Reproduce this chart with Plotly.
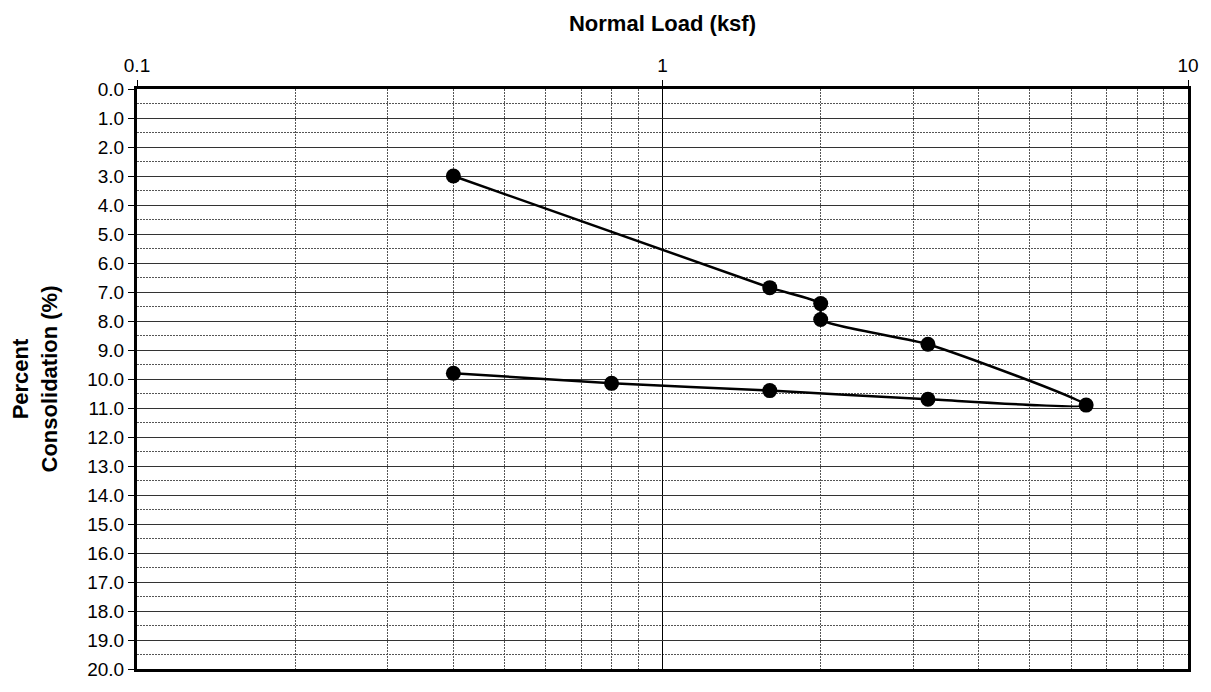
import plotly.graph_objects as go

load_ksf = [0.4, 1.6, 2.0, 2.0, 3.2, 6.4, 3.2, 1.6, 0.8, 0.4]
consolidation_pct = [3.0, 6.85, 7.4, 7.95, 8.8, 10.9, 10.7, 10.4, 10.15, 9.8]

x_major = [0.1, 1, 10]
x_major_text = ["0.1", "1", "10"]
x_minor = [0.2, 0.3, 0.4, 0.5, 0.6, 0.7, 0.8, 0.9, 2, 3, 4, 5, 6, 7, 8, 9]

FONT = "Liberation Sans, Arial, sans-serif"

fig = go.Figure()
fig.add_trace(go.Scatter(
    x=load_ksf, y=consolidation_pct, mode="lines+markers",
    line=dict(color="black", width=2.5, shape="spline", smoothing=0.5),
    marker=dict(color="black", size=15),
    showlegend=False,
))

fig.update_layout(
    width=1211, height=692,
    margin=dict(l=137, r=21, t=89, b=13),
    paper_bgcolor="white", plot_bgcolor="white",
    font=dict(family=FONT, size=19, color="black"),
    xaxis=dict(
        type="log", side="top", range=[-1, 1],
        tickmode="array", tickvals=x_major, ticktext=x_major_text,
        ticks="outside", ticklen=6, tickcolor="black",
        showgrid=True, gridcolor="black", gridwidth=1,
        showline=True, linecolor="black", linewidth=3, mirror=True,
        minor=dict(tickmode="array", tickvals=x_minor, showgrid=True,
                   gridcolor="#555", griddash="2px,1px", gridwidth=1),
        title=dict(text="<b>Normal Load (ksf)</b>", font=dict(size=22), standoff=18),
        zeroline=False,
    ),
    yaxis=dict(
        range=[20, 0], tickmode="linear", tick0=0, dtick=1, tickformat=".1f",
        ticks="outside", ticklen=6, tickcolor="black",
        showgrid=True, gridcolor="#333", gridwidth=1,
        showline=True, linecolor="black", linewidth=3, mirror=True,
        minor=dict(dtick=0.5, showgrid=True, gridcolor="#555", griddash="2px,1px", gridwidth=1),
        title=dict(text="<b>Percent<br>Consolidation (%)</b>", font=dict(size=22), standoff=24),
        zeroline=False,
    ),
)

fig.write_html("out.html")
